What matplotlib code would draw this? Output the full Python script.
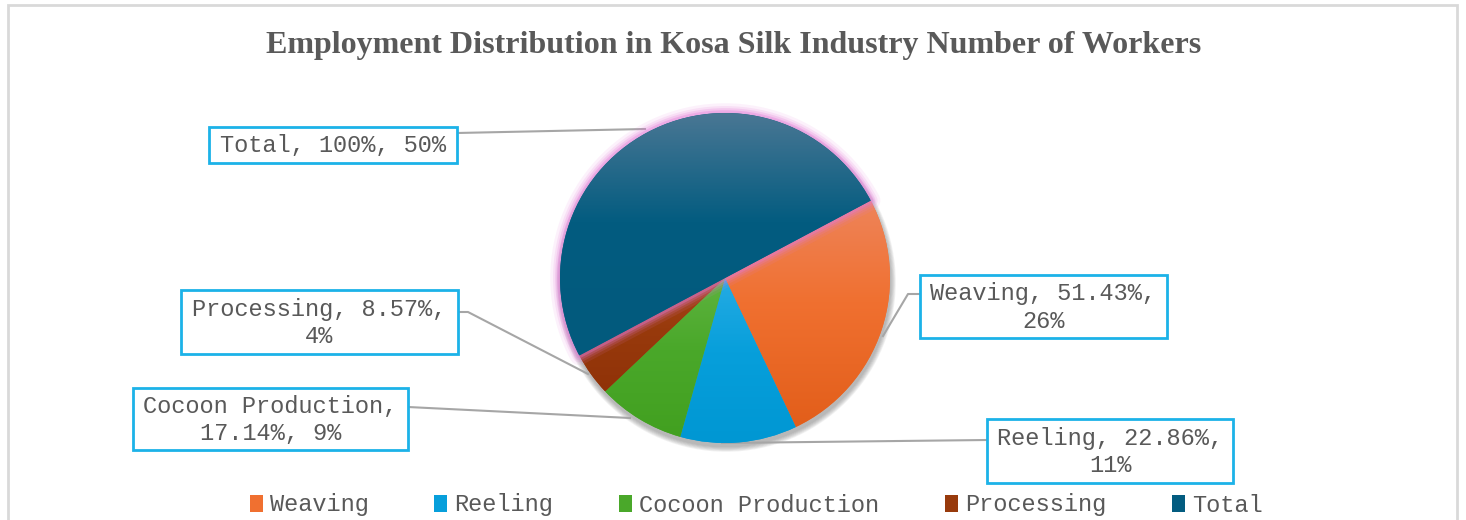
import numpy as np
import matplotlib
matplotlib.use("Agg")
from matplotlib import pyplot as plt
from matplotlib.patches import Rectangle, Wedge, Circle
from matplotlib.colors import to_rgb

# data
categories = ["Weaving", "Reeling", "Cocoon Production", "Processing", "Total"]
shares = [51.43, 22.86, 17.14, 8.57, 100.0]
base_colors = ["#F07030", "#079FDB", "#4AA82A", "#983A0C", "#035C80"]
top_colors = ["#EE845A", "#25ABE3", "#5EB33F", "#A8461A", "#4A7794"]
bottom_colors = ["#E25E1A", "#0097D3", "#42A020", "#903208", "#025A7D"]

W, H = 1466, 520
def Y(y):
    return H - y

# layout (pixel positions, y measured from top)
cx, cy, rad = 725, 278, 165
label_boxes = [(920, 275, 1167, 338), (987, 419, 1233, 483),
               (133, 388, 408, 450), (181, 290, 458, 354), (209, 127, 457, 163)]
label_breaks = [2, 2, 1, 2, None]
leaders = [[(920, 294), (908, 294), (883, 336)],
           [(987, 440), (722, 443)],
           [(408, 407), (630, 418)],
           [(458, 312), (468, 312), (588, 374)],
           [(457, 133), (645, 129)]]

txt_col = "#595959"
mono = "Liberation Mono"

fig = plt.figure(figsize=(W / 100, H / 100), dpi=100)
ax = fig.add_axes([0, 0, 1, 1])

# shadow under the pie
for i in range(7):
    ax.add_patch(Circle((cx + 1, Y(cy + 4)), rad + i * 0.8, color="#707070",
                        alpha=0.09, zorder=0.5, lw=0))

wedges, _ = ax.pie(shares, colors=base_colors, startangle=28, counterclock=False,
                   center=(cx, Y(cy)), radius=rad,
                   wedgeprops=dict(linewidth=0))

for i, w in enumerate(wedges):
    z = 3 if categories[i] == "Total" else 2
    w.set_zorder(z)
    ext = w.get_path().get_extents()
    t = np.linspace(0, 1, 256)
    c_top, c_mid, c_bot = (np.array(to_rgb(c)) for c in
                           (top_colors[i], base_colors[i], bottom_colors[i]))
    grad = np.zeros((256, 1, 3))
    for k in range(3):
        grad[:, 0, k] = np.interp(t, [0, 0.45, 1], [c_top[k], c_mid[k], c_bot[k]])
    im = ax.imshow(grad, extent=(ext.x0, ext.x1, ext.y0, ext.y1), origin="upper",
                   aspect="auto", zorder=z + 0.1, interpolation="bilinear")
    im.set_clip_path(w)
    if categories[i] == "Total":
        # pink glow around the total slice
        for lw, a in [(14, 0.1), (10, 0.15), (7, 0.22), (4, 0.35)]:
            ax.add_patch(Wedge(w.center, w.r, w.theta1, w.theta2, fill=False,
                               ec="#E27AD8", lw=lw, alpha=a, zorder=2.6,
                               joinstyle="round"))

# data labels
total = sum(shares)
for i, name in enumerate(categories):
    parts = [name, f"{shares[i]:.2f}".rstrip("0").rstrip(".") + "%",
             f"{round(shares[i] / total * 100):.0f}%"]
    b = label_breaks[i]
    if b is None:
        s = ", ".join(parts)
    else:
        s = ", ".join(parts[:b]) + ",\n" + ", ".join(parts[b:])
    x0, y0, x1, y1 = label_boxes[i]
    ax.add_patch(Rectangle((x0, Y(y1)), x1 - x0, y1 - y0, fc="white",
                           ec="#1CB2E8", lw=2, zorder=5))
    ax.text((x0 + x1) / 2, Y((y0 + y1) / 2 + 1), s, ha="center", va="center",
            fontsize=17, family=mono, color=txt_col, zorder=6, linespacing=1.25)
    pts = leaders[i]
    ax.plot([p[0] for p in pts], [Y(p[1]) for p in pts], color="#A6A6A6",
            lw=1.5, zorder=1)

fig.text(734 / W, 1 - 46 / H, "Employment Distribution in Kosa Silk Industry Number of Workers",
         ha="center", va="center", fontsize=23, family="Liberation Serif",
         weight="bold", color=txt_col)

leg = ax.legend(wedges, categories, loc="center", bbox_to_anchor=(756 / W, 1 - 505 / H),
                ncol=5, frameon=False, handlelength=0.55, handleheight=0.75,
                handletextpad=0.3, columnspacing=2.78, borderaxespad=0,
                prop=dict(family=mono, size=17), labelcolor=txt_col)

# chart border
ax.add_patch(Rectangle((8, Y(530)), 1449, 525, fill=False, ec="#D9D9D9", lw=2, zorder=0))

ax.set_xlim(0, W)
ax.set_ylim(0, H)
ax.axis("off")
fig.savefig("out.png", dpi=100)
